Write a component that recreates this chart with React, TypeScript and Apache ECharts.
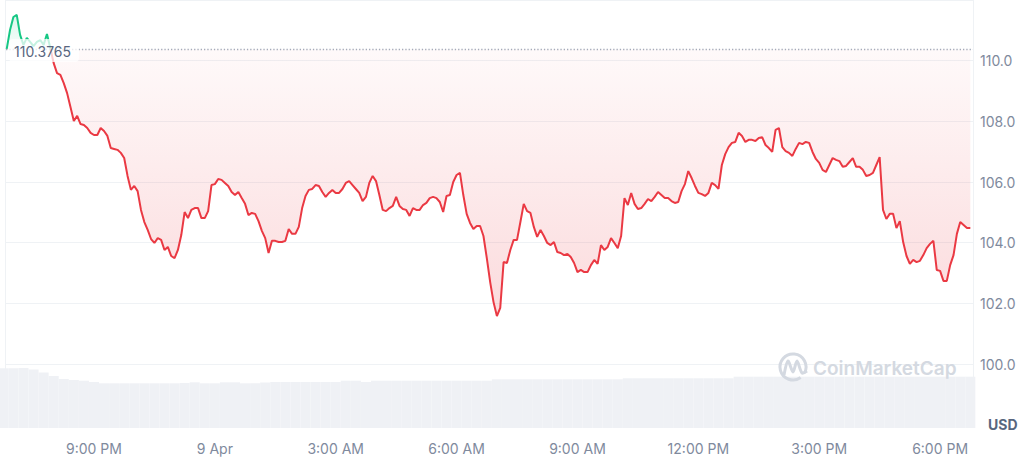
import React, { useEffect, useRef } from "react";
import * as echarts from "echarts";

const BASELINE = 110.3765;
const PRICE_START = Date.UTC(2025, 3, 8, 18, 50);
const PRICE_STEP_MIN = 5;
const VOLUME_START = Date.UTC(2025, 3, 8, 18, 45);
const VOLUME_STEP_MIN = 15;
const AXIS_MIN = Date.UTC(2025, 3, 8, 18, 49);
const AXIS_MAX = Date.UTC(2025, 3, 9, 18, 49);
const HOUR = 3600000;

const priceValues = [
  110.38, 111.01, 111.44, 111.51, 110.85, 110.52, 110.75, 110.62, 110.48, 110.62,
  110.68, 110.52, 110.88, 110.42, 109.92, 109.59, 109.53, 109.26, 108.93, 108.47,
  108.01, 108.18, 107.91, 107.88, 107.78, 107.62, 107.55, 107.55, 107.78, 107.68,
  107.52, 107.12, 107.09, 107.06, 106.96, 106.79, 106.2, 105.74, 105.87, 105.7,
  105.08, 104.68, 104.42, 104.12, 103.99, 104.15, 104.09, 103.76, 103.86, 103.56,
  103.49, 103.76, 104.25, 105.01, 104.81, 105.08, 105.14, 105.14, 104.81, 104.81,
  105.04, 105.9, 105.93, 106.1, 106.07, 105.97, 105.87, 105.67, 105.57, 105.67,
  105.47, 105.28, 104.91, 104.98, 104.95, 104.71, 104.39, 104.15, 103.66, 104.06,
  104.06, 104.02, 104.02, 104.06, 104.45, 104.29, 104.29, 104.52, 105.14, 105.54,
  105.74, 105.77, 105.9, 105.87, 105.67, 105.51, 105.64, 105.74, 105.64, 105.64,
  105.77, 105.97, 106.03, 105.9, 105.77, 105.64, 105.37, 105.51, 105.97, 106.2,
  106.03, 105.57, 105.08, 105.04, 105.14, 105.21, 105.51, 105.21, 105.11, 105.08,
  104.88, 105.14, 105.08, 105.08, 105.24, 105.31, 105.47, 105.51, 105.47, 105.34,
  105.01, 105.54, 105.57, 106.0, 106.23, 106.3, 105.57, 104.95, 104.65, 104.45,
  104.55, 104.55, 104.22, 103.49, 102.7, 102.04, 101.58, 101.85, 103.36, 103.33,
  103.76, 104.09, 104.09, 104.68, 105.28, 105.04, 104.98, 104.52, 104.19, 104.42,
  104.22, 103.99, 103.92, 104.02, 103.69, 103.66, 103.59, 103.63, 103.53, 103.33,
  103.03, 103.1, 103.03, 103.03, 103.26, 103.43, 103.3, 103.92, 103.76, 103.86,
  104.15, 103.99, 103.82, 104.22, 105.47, 105.24, 105.64, 105.28, 105.11, 105.14,
  105.28, 105.44, 105.37, 105.51, 105.67, 105.57, 105.47, 105.47, 105.37, 105.31,
  105.34, 105.7, 105.93, 106.36, 106.13, 105.87, 105.64, 105.6, 105.54, 105.64,
  105.97, 105.9, 105.77, 106.56, 106.92, 107.15, 107.29, 107.32, 107.62, 107.52,
  107.32, 107.39, 107.39, 107.35, 107.45, 107.48, 107.22, 107.12, 106.99, 107.72,
  107.78, 107.15, 107.02, 106.96, 106.86, 107.09, 107.29, 107.25, 107.32, 107.29,
  106.99, 106.76, 106.63, 106.4, 106.33, 106.56, 106.79, 106.73, 106.69, 106.5,
  106.53, 106.66, 106.79, 106.5, 106.5, 106.4, 106.2, 106.23, 106.3, 106.56,
  106.82, 105.08, 104.78, 104.95, 104.95, 104.48, 104.71, 104.02, 103.56, 103.3,
  103.43, 103.36, 103.4, 103.59, 103.82, 103.96, 104.06, 103.1, 103.07, 102.74,
  102.74, 103.26, 103.59, 104.29, 104.68, 104.58, 104.48, 104.48,
];

const volumeValues = [
  93.3, 93.3, 93.8, 91.4, 86.7, 81.3, 76.6, 75.0, 73.9, 71.9,
  69.8, 69.8, 69.8, 69.8, 69.8, 69.8, 69.8, 69.8, 70.3, 71.4,
  69.8, 69.8, 71.4, 71.4, 69.8, 69.8, 71.1, 71.9, 71.9, 71.9,
  71.9, 71.9, 71.9, 71.9, 73.9, 73.9, 71.9, 73.9, 73.9, 73.9,
  73.9, 73.9, 73.9, 73.9, 73.9, 73.9, 73.9, 73.9, 73.9, 76.1,
  76.1, 76.1, 76.1, 76.1, 76.1, 76.1, 76.1, 76.1, 76.1, 76.1,
  76.1, 76.1, 77.7, 77.7, 77.7, 77.7, 77.7, 77.7, 77.7, 77.7,
  77.7, 77.7, 77.7, 80.2, 80.2, 80.2, 80.2, 80.2, 80.2, 80.2,
  80.2, 80.2, 80.2, 80.2, 80.2, 80.2, 80.2, 80.2, 80.2, 80.2,
  80.2, 80.2, 80.2, 80.2, 80.2, 80.2, 80.2,
];

const xTickTimes = [
  Date.UTC(2025, 3, 8, 21), Date.UTC(2025, 3, 9, 0), Date.UTC(2025, 3, 9, 3),
  Date.UTC(2025, 3, 9, 6), Date.UTC(2025, 3, 9, 9), Date.UTC(2025, 3, 9, 12),
  Date.UTC(2025, 3, 9, 15), Date.UTC(2025, 3, 9, 18),
];
const xTickLabels = ["9:00 PM", "9 Apr", "3:00 AM", "6:00 AM", "9:00 AM", "12:00 PM", "3:00 PM", "6:00 PM"];
const yTickValues = [100, 102, 104, 106, 108, 110];

const RED = "#ea3943";
const GREEN = "#16c784";
const FONT = "Inter, 'Noto Sans', sans-serif";
const GRID_LEFT = 6;
const GRID_RIGHT = 51;
const W = 1024;

export default function App() {
  const ref = useRef<HTMLDivElement>(null);
  useEffect(() => {
    document.body.style.margin = "0";
    if (!ref.current) return;
    const chart = echarts.init(ref.current, undefined, { renderer: "svg" });
    const priceData = priceValues.map((v, i) => [PRICE_START + i * PRICE_STEP_MIN * 60000, v]);
    const volumeData = volumeValues.map((v, i) => [VOLUME_START + i * VOLUME_STEP_MIN * 60000, v]);
    const maxV = Math.max(...priceValues);
    const minV = Math.min(...priceValues);
    const split = (maxV - BASELINE) / (maxV - minV);
    const plotRight = W - GRID_RIGHT;
    const plotWidth = W - GRID_LEFT - GRID_RIGHT;
    const labelMin = xTickTimes[0];
    const labelLeft = GRID_LEFT + ((labelMin - AXIS_MIN) / (AXIS_MAX - AXIS_MIN)) * plotWidth;

    chart.setOption({
      animation: false,
      textStyle: { fontFamily: FONT },
      grid: [
        { left: GRID_LEFT, right: GRID_RIGHT, top: -1, bottom: 98 },
        { left: GRID_LEFT, right: GRID_RIGHT, top: 364, bottom: 34 },
        { left: labelLeft, right: GRID_RIGHT, top: 364, bottom: 34 },
      ],
      xAxis: [
        { type: "value", gridIndex: 0, min: AXIS_MIN, max: AXIS_MAX, show: false },
        { type: "value", gridIndex: 1, min: AXIS_MIN, max: AXIS_MAX, show: false },
        {
          type: "value",
          gridIndex: 2,
          min: labelMin,
          max: AXIS_MAX,
          interval: 3 * HOUR,
          axisLine: { show: false },
          axisTick: { show: false },
          splitLine: { show: false },
          axisLabel: {
            margin: 13,
            fontSize: 14,
            color: "#808a9d",
            fontFamily: FONT,
            showMinLabel: true,
            showMaxLabel: false,
            formatter: (v: number) => {
              const idx = xTickTimes.indexOf(v);
              return idx >= 0 ? xTickLabels[idx] : "";
            },
          },
        },
      ],
      yAxis: [
        {
          type: "value",
          gridIndex: 0,
          position: "right",
          min: 100,
          max: 112,
          interval: 2,
          axisLine: { show: false },
          axisTick: { show: false },
          splitLine: { show: true, lineStyle: { color: "#eff2f5", width: 1 } },
          axisLabel: {
            margin: 7,
            fontSize: 14,
            color: "#808a9d",
            fontFamily: FONT,
            formatter: (v: number) => (yTickValues.indexOf(v) >= 0 ? v.toFixed(1) : ""),
          },
        },
        { type: "value", gridIndex: 1, min: 0, max: 100, show: false },
        { type: "value", gridIndex: 2, min: 0, max: 100, show: false },
      ],
      series: [
        {
          type: "line",
          xAxisIndex: 0,
          yAxisIndex: 0,
          data: priceData,
          showSymbol: false,
          symbol: "none",
          z: 3,
          lineStyle: {
            width: 2,
            color: new echarts.graphic.LinearGradient(0, 0, 0, 1, [
              { offset: 0, color: GREEN },
              { offset: split, color: GREEN },
              { offset: Math.min(1, split + 0.0001), color: RED },
              { offset: 1, color: RED },
            ]),
          },
          areaStyle: {
            origin: BASELINE,
            color: new echarts.graphic.LinearGradient(0, 0, 0, 1, [
              { offset: 0, color: "rgba(22,199,132,0.22)" },
              { offset: split, color: "rgba(22,199,132,0.04)" },
              { offset: Math.min(1, split + 0.0001), color: "rgba(234,57,67,0.04)" },
              { offset: 1, color: "rgba(234,57,67,0.26)" },
            ]),
          },
          markLine: {
            silent: true,
            symbol: "none",
            label: { show: false },
            lineStyle: { color: "#a4abba", width: 1.3, type: [1.3, 2] },
            data: [{ yAxis: BASELINE }],
          },
        },
        {
          type: "bar",
          xAxisIndex: 1,
          yAxisIndex: 1,
          data: volumeData,
          barWidth: "100%",
          itemStyle: { color: "#eff1f5" },
          silent: true,
        },
      ],
      graphic: [
        { type: "line", shape: { x1: GRID_LEFT - 0.5, y1: 0, x2: GRID_LEFT - 0.5, y2: 428 }, style: { stroke: "#eff2f5", lineWidth: 1 }, z: 0 },
        { type: "line", shape: { x1: plotRight + 0.5, y1: 0, x2: plotRight + 0.5, y2: 428 }, style: { stroke: "#eff2f5", lineWidth: 1 }, z: 0 },
        {
          type: "rect",
          z: 100,
          shape: { x: 9, y: 39, width: 70, height: 23, r: 4 },
          style: { fill: "rgba(255,255,255,0.75)" },
        },
        {
          type: "text",
          z: 101,
          x: 14,
          y: 51,
          style: { text: BASELINE.toFixed(4), fontSize: 14, fill: "#58667e", fontFamily: FONT, verticalAlign: "middle" },
        },
        {
          type: "arc",
          z: 50,
          shape: { cx: 793, cy: 367, r: 13, startAngle: Math.PI * 0.3, endAngle: Math.PI * 2.15 },
          style: { stroke: "#d4d9e1", lineWidth: 3, fill: "none" },
        },
        {
          type: "polyline",
          z: 50,
          shape: { points: [[784, 375], [788, 361], [793, 372], [797, 361], [802, 373], [807, 371]], smooth: 0.3 },
          style: { stroke: "#d4d9e1", lineWidth: 3, fill: "none" },
        },
        {
          type: "text",
          z: 50,
          x: 813,
          y: 368,
          style: { text: "CoinMarketCap", fontSize: 19, fontWeight: 600, fill: "#d4d9e1", fontFamily: FONT, verticalAlign: "middle" },
        },
        {
          type: "text",
          x: 988,
          y: 424,
          style: { text: "USD", fontSize: 14, fontWeight: 700, fill: "#58667e", fontFamily: FONT, verticalAlign: "middle" },
        },
      ],
    });
    return () => chart.dispose();
  }, []);
  return <div ref={ref} style={{ width: 1024, height: 462 }} />;
}
